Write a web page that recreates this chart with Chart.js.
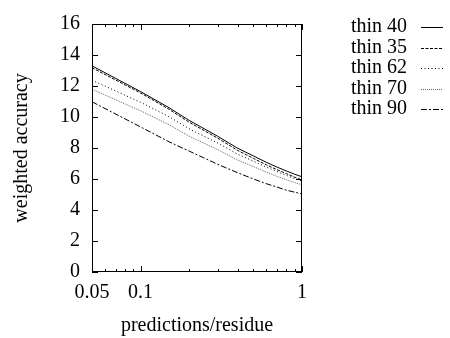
<!DOCTYPE html>
<html>
<head>
<meta charset="utf-8">
<script src="https://cdn.jsdelivr.net/npm/chart.js@4"></script>
<style>
html,body{margin:0;padding:0;background:#fff;}
#wrap{width:450px;height:338px;position:relative;}
</style>
</head>
<body>
<div id="wrap"><canvas id="c" width="450" height="338"></canvas></div>
<script>
// ---- data ----
const predictionsPerResidue = [0.05, 0.1, 0.15, 0.2, 0.3, 0.4, 0.5, 0.6, 0.7, 0.8, 0.9, 1];
const seriesNames = ['thin 40', 'thin 35', 'thin 62', 'thin 70', 'thin 90'];
const thin40 = [13.30, 11.64, 10.60, 9.78, 8.76, 7.98, 7.49, 7.08, 6.77, 6.52, 6.31, 6.14];
const thin35 = [13.18, 11.55, 10.50, 9.66, 8.64, 7.84, 7.33, 6.92, 6.60, 6.35, 6.12, 5.93];
const thin62 = [12.37, 10.95, 10.02, 9.24, 8.32, 7.60, 7.15, 6.77, 6.48, 6.23, 6.03, 5.87];
const thin70 = [11.79, 10.40, 9.50, 8.76, 7.90, 7.22, 6.80, 6.45, 6.17, 5.95, 5.77, 5.62];
const thin90 = [10.98, 9.36, 8.40, 7.80, 6.95, 6.40, 6.00, 5.70, 5.48, 5.28, 5.15, 5.04];
const xTickLabels = [0.05, 0.1, 1];
const xMinorTicks = [0.06, 0.07, 0.08, 0.09, 0.2, 0.3, 0.4, 0.5, 0.6, 0.7, 0.8, 0.9];
const yTicks = [0, 2, 4, 6, 8, 10, 12, 14, 16];

const allSeries = [thin40, thin35, thin62, thin70, thin90];
const dashes = [[], [3, 1.5], [1, 2.5], [1, 1], [6, 2, 2, 2]];
const colors = ['#000', '#000', '#000', '#666', '#000'];

const FONT = 'Liberation Serif';

const datasets = allSeries.map((vals, i) => ({
  label: seriesNames[i],
  data: vals.map((v, j) => ({x: predictionsPerResidue[j], y: v})),
  borderColor: colors[i],
  borderWidth: 1,
  borderDash: dashes[i],
  pointRadius: 0,
  tension: 0,
  fill: false
}));

const frame = {
  id: 'frame',
  afterDatasetsDraw(chart) {
    const {ctx, chartArea: a, scales: {x, y}} = chart;
    ctx.save();
    ctx.strokeStyle = '#000';
    ctx.lineWidth = 1;
    ctx.setLineDash([]);
    ctx.strokeRect(a.left + 0.5, a.top + 0.5, a.right - a.left - 1, a.bottom - a.top - 1);
    ctx.beginPath();
    yTicks.forEach(v => {
      const py = Math.round(y.getPixelForValue(v)) + 0.5;
      ctx.moveTo(a.left, py); ctx.lineTo(a.left + 6, py);
      ctx.moveTo(a.right, py); ctx.lineTo(a.right - 6, py);
    });
    xTickLabels.forEach(v => {
      const px = Math.round(x.getPixelForValue(v)) + 0.5;
      ctx.moveTo(px, a.bottom); ctx.lineTo(px, a.bottom - 6);
      ctx.moveTo(px, a.top); ctx.lineTo(px, a.top + 6);
    });
    xMinorTicks.forEach(v => {
      const px = Math.round(x.getPixelForValue(v)) + 0.5;
      ctx.moveTo(px, a.bottom); ctx.lineTo(px, a.bottom - 3);
      ctx.moveTo(px, a.top); ctx.lineTo(px, a.top + 3);
    });
    ctx.stroke();

    // legend
    ctx.font = '20px "' + FONT + '"';
    ctx.fillStyle = '#000';
    ctx.textBaseline = 'middle';
    ctx.textAlign = 'left';
    chart.data.datasets.forEach((ds, i) => {
      const cy = 27 + i * 20.5;
      ctx.fillText(ds.label, 351, cy);
      ctx.beginPath();
      ctx.strokeStyle = ds.borderColor;
      ctx.setLineDash(ds.borderDash);
      ctx.moveTo(421, Math.round(cy) + 0.5);
      ctx.lineTo(443, Math.round(cy) + 0.5);
      ctx.stroke();
    });
    ctx.restore();
  }
};

new Chart(document.getElementById('c'), {
  type: 'line',
  data: {datasets},
  options: {
    responsive: false,
    animation: false,
    devicePixelRatio: 1,
    layout: {padding: {top: 15, right: 148, left: 0, bottom: 0}},
    plugins: {legend: {display: false}, tooltip: {enabled: false}},
    scales: {
      x: {
        type: 'logarithmic',
        min: 0.05, max: 1,
        afterBuildTicks: s => { s.ticks = xTickLabels.map(v => ({value: v})); },
        afterFit: s => { s.height = 66; },
        grid: {display: false, drawTicks: false},
        border: {display: false},
        ticks: {
          autoSkip: false, maxRotation: 0, padding: 9,
          color: '#000', font: {family: FONT, size: 20},
          callback: v => String(v)
        },
        title: {display: true, text: 'predictions/residue', color: '#000',
                font: {family: FONT, size: 20}, padding: {top: 0, bottom: 0}}
      },
      y: {
        min: 0, max: 16,
        afterBuildTicks: s => { s.ticks = yTicks.map(v => ({value: v})); },
        afterFit: s => { s.width = 92; },
        grid: {display: false, drawTicks: false},
        border: {display: false},
        ticks: {padding: 12, color: '#000', font: {family: FONT, size: 20}},
        title: {display: true, text: 'weighted accuracy', color: '#000',
                font: {family: FONT, size: 20}, padding: {top: 10, bottom: 0}}
      }
    }
  },
  plugins: [frame]
});
</script>
</body>
</html>
